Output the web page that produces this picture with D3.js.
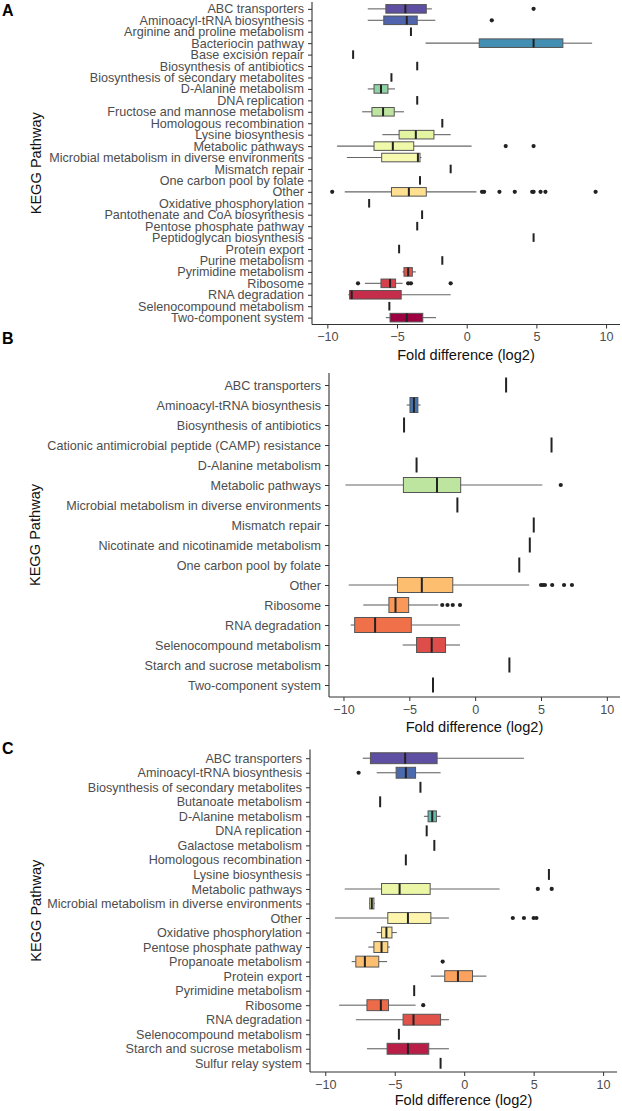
<!DOCTYPE html>
<html><head><meta charset="utf-8">
<script src="https://cdn.jsdelivr.net/npm/d3@7"></script>
<style>body{margin:0;background:#fff} svg{display:block}</style>
</head><body>
<script>
// ---------- Panel A ----------
const catsA = ["ABC transporters","Aminoacyl-tRNA biosynthesis","Arginine and proline metabolism","Bacteriocin pathway","Base excision repair","Biosynthesis of antibiotics","Biosynthesis of secondary metabolites","D-Alanine metabolism","DNA replication","Fructose and mannose metabolism","Homologous recombination","Lysine biosynthesis","Metabolic pathways","Microbial metabolism in diverse environments","Mismatch repair","One carbon pool by folate","Other","Oxidative phosphorylation","Pantothenate and CoA biosynthesis","Pentose phosphate pathway","Peptidoglycan biosynthesis","Protein export","Purine metabolism","Pyrimidine metabolism","Ribosome","RNA degradation","Selenocompound metabolism","Two-component system"];
// [lower whisker, Q1, median, Q3, upper whisker] or a single value
const statsA = [[-7.1,-5.8,-4.4,-2.9,-2.5],[-7.1,-5.95,-4.3,-3.55,-2.25],-4.0,[-2.95,0.9,4.8,6.9,9.0],-8.15,-3.55,-5.4,[-7.1,-6.65,-6.15,-5.65,-5.15],-3.55,[-7.5,-6.8,-6.0,-5.2,-4.5],-1.75,[-6.05,-4.85,-3.65,-2.35,-1.15],[-9.3,-6.65,-5.3,-3.8,0.35],[-8.6,-6.1,-3.5,-3.35,-3.25],-1.15,-3.35,[-8.75,-5.4,-4.15,-2.9,0.7],-7.0,-3.2,-3.55,4.8,-4.85,-1.75,[-4.6,-4.5,-4.2,-3.9,-3.65],[-7.3,-6.15,-5.5,-5.1,-4.6],[-8.5,-8.4,-8.25,-4.7,-1.15],-5.55,[-5.8,-5.5,-4.3,-3.15,-2.2]];
const outA = [[4.8],[1.8],[],[],[],[],[],[],[],[],[],[],[2.8,4.8],[],[],[],[-9.65,1.1,1.25,2.35,3.45,4.7,4.8,5.3,5.65,9.25],[],[],[],[],[],[],[],[-7.8,-4.2,-4.0,-1.15],[],[],[]];

// ---------- Panel B ----------
const catsB = ["ABC transporters","Aminoacyl-tRNA biosynthesis","Biosynthesis of antibiotics","Cationic antimicrobial peptide (CAMP) resistance","D-Alanine metabolism","Metabolic pathways","Microbial metabolism in diverse environments","Mismatch repair","Nicotinate and nicotinamide metabolism","One carbon pool by folate","Other","Ribosome","RNA degradation","Selenocompound metabolism","Starch and sucrose metabolism","Two-component system"];
const statsB = [2.35,[-5.2,-4.95,-4.65,-4.35,-4.15],-5.4,5.8,-4.45,[-9.85,-5.45,-2.9,-1.1,5.1],-1.35,4.45,4.15,3.35,[-9.6,-5.9,-4.05,-1.7,4.1],[-8.5,-6.55,-6.05,-5.05,-2.8],[-9.45,-9.15,-7.6,-4.85,-1.15],[-5.5,-4.45,-3.3,-2.25,-1.15],2.6,-3.2];
const outB = [[],[],[],[],[],[6.5],[],[],[],[],[5.0,5.15,5.3,5.85,6.75,7.35],[-2.5,-2.1,-1.7,-1.15],[],[],[],[]];

// ---------- Panel C ----------
const catsC = ["ABC transporters","Aminoacyl-tRNA biosynthesis","Biosynthesis of secondary metabolites","Butanoate metabolism","D-Alanine metabolism","DNA replication","Galactose metabolism","Homologous recombination","Lysine biosynthesis","Metabolic pathways","Microbial metabolism in diverse environments","Other","Oxidative phosphorylation","Pentose phosphate pathway","Propanoate metabolism","Protein export","Pyrimidine metabolism","Ribosome","RNA degradation","Selenocompound metabolism","Starch and sucrose metabolism","Sulfur relay system"];
const statsC = [[-7.3,-6.75,-4.25,-1.95,4.3],[-6.3,-4.9,-4.2,-3.5,-1.7],-3.15,-6.05,[-2.9,-2.6,-2.3,-2.0,-1.7],-2.7,-2.15,-4.2,6.1,[-8.6,-5.95,-4.65,-2.45,2.55],[-6.85,-6.8,-6.65,-6.5,-6.45],[-9.3,-5.5,-4.05,-2.4,-1.1],[-6.3,-5.95,-5.6,-5.2,-4.85],[-6.9,-6.5,-5.95,-5.5,-5.35],[-8.1,-7.8,-7.15,-6.15,-5.55],[-2.4,-1.4,-0.45,0.6,1.6],-3.6,[-9.0,-7.0,-6.0,-5.45,-3.5],[-7.8,-4.4,-3.65,-1.7,-1.1],-4.7,[-7.0,-5.55,-4.05,-2.55,-1.1],-1.7];
const outC = [[],[-7.6],[],[],[],[],[],[],[],[5.3,6.3],[],[3.5,4.3,5.0,5.2],[],[],[-1.55],[],[],[-2.95],[],[],[],[]];

const xTicks = [-10,-5,0,5,10];
const xDomain = [-11.1, 11.0];
const xTitle = "Fold difference (log2)";
const yTitle = "KEGG Pathway";

const FONT = "'Liberation Sans', Arial, Helvetica, sans-serif";
const svg = d3.select("body").append("svg").attr("width",622).attr("height",1111)
  .style("font-family", FONT);

function panel(o){
  const g = svg.append("g");
  const x = d3.scaleLinear().domain(xDomain).range([o.left, o.right]);
  const y = d3.scalePoint().domain(o.cats).range([o.top, o.bottom]).padding(0.6);
  const step = y.step();
  const bh = step*0.75;
  const n = o.cats.length;
  const color = d3.scaleOrdinal().domain(o.cats).range(o.cats.map((c,i)=>d3.interpolateSpectral(1 - i/(n-1))));

  // axes
  const ax = g.append("g").attr("transform",`translate(0,${o.bottom})`)
    .call(d3.axisBottom(x).tickValues(xTicks).tickSize(4).tickPadding(4).tickFormat(d3.format("d")));
  const ay = g.append("g").attr("transform",`translate(${o.left},0)`)
    .call(d3.axisLeft(y).tickSize(4).tickPadding(4));
  [ax,ay].forEach(a=>{
    a.select(".domain").attr("stroke","#333").attr("stroke-width",1.1);
    a.selectAll(".tick line").attr("stroke","#333").attr("stroke-width",1);
    a.selectAll(".tick text").attr("fill","#4d4d4d").style("font-size","12.6px").style("font-family",FONT);
  });
  ax.select(".domain").attr("d",`M${o.left},0H${o.right}`);
  ay.select(".domain").attr("d",`M0,${o.top}V${o.bottom}`);

  const rows = o.cats.map((c,i)=>{
    const s = Array.isArray(o.stats[i]) ? o.stats[i] : [o.stats[i],o.stats[i],o.stats[i],o.stats[i],o.stats[i]];
    return {c, s, out:o.outs[i]};
  });
  const r = g.selectAll("g.row").data(rows).join("g").attr("class","row")
    .attr("transform",d=>`translate(0,${y(d.c)})`);
  r.filter(d=>d.s[0]<d.s[1]).append("line")
    .attr("x1",d=>x(d.s[0])).attr("x2",d=>x(d.s[1])).attr("stroke","#666").attr("stroke-width",1.1);
  r.filter(d=>d.s[4]>d.s[3]).append("line")
    .attr("x1",d=>x(d.s[3])).attr("x2",d=>x(d.s[4])).attr("stroke","#666").attr("stroke-width",1.1);
  r.filter(d=>d.s[3]>d.s[1]).append("rect")
    .attr("x",d=>x(d.s[1])).attr("width",d=>x(d.s[3])-x(d.s[1]))
    .attr("y",-bh/2).attr("height",bh)
    .attr("fill",d=>color(d.c)).attr("stroke","#555").attr("stroke-width",1);
  r.append("line")
    .attr("x1",d=>x(d.s[2])).attr("x2",d=>x(d.s[2]))
    .attr("y1",-bh/2).attr("y2",bh/2).attr("stroke","#222").attr("stroke-width",2);
  r.selectAll("circle").data(d=>d.out).join("circle")
    .attr("cx",v=>x(v)).attr("cy",0).attr("r",2.1).attr("fill","#222");

  // titles
  g.append("text").attr("x",(o.left+o.right)/2).attr("y",o.xTitleY)
    .attr("text-anchor","middle").attr("fill","#111").style("font-size","14.6px").text(xTitle);
  g.append("text").attr("transform",`translate(${o.yTitleX},${(o.top+o.bottom)/2}) rotate(-90)`)
    .attr("text-anchor","middle").attr("dy","0.35em").attr("fill","#111").style("font-size","14.6px").text(yTitle);
  g.append("text").attr("x",2).attr("y",o.letterY).attr("fill","#000")
    .style("font-size","16px").style("font-weight","bold").style("font-family","'Liberation Sans', Arial, sans-serif").text(o.letter);
}

panel({letter:"A", letterY:16, cats:catsA, stats:statsA, outs:outA, left:312, right:620, top:2, bottom:324.5, xTitleY:360, yTitleX:36});
panel({letter:"B", letterY:344, cats:catsB, stats:statsB, outs:outB, left:329, right:620, top:373, bottom:697, xTitleY:732, yTitleX:35});
panel({letter:"C", letterY:754, cats:catsC, stats:statsC, outs:outC, left:310, right:617, top:749.5, bottom:1072, xTitleY:1105, yTitleX:36});
</script>
</body></html>
